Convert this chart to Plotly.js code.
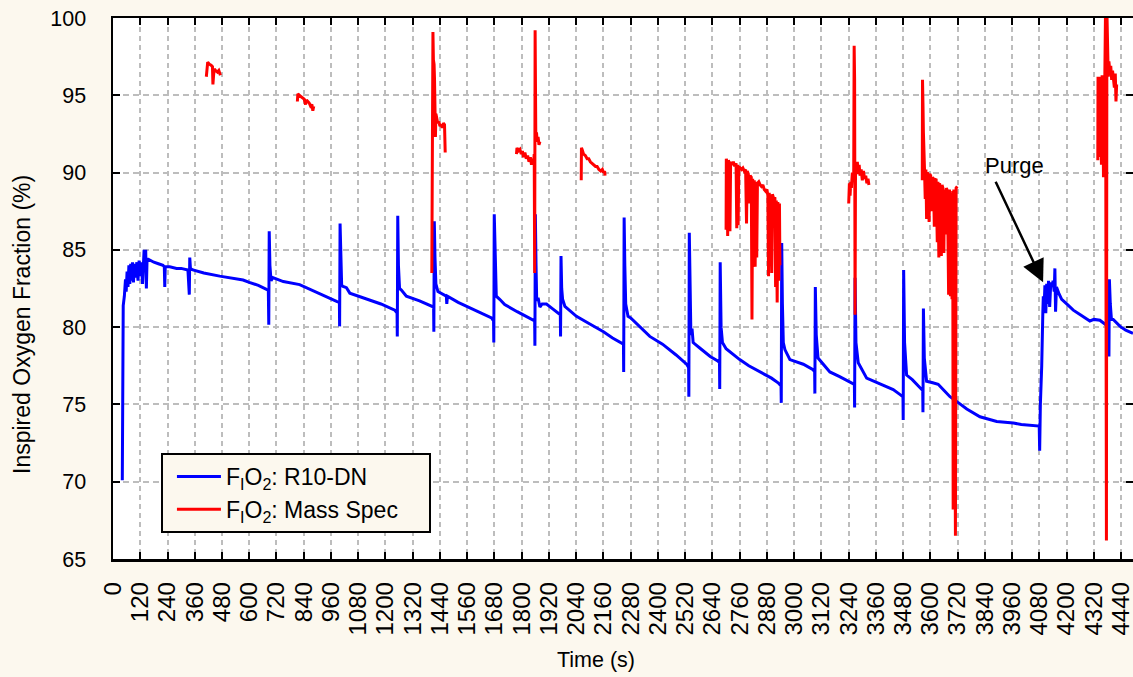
<!DOCTYPE html>
<html>
<head>
<meta charset="utf-8">
<script src="https://cdn.plot.ly/plotly-3.0.1.min.js"></script>
<style>html,body{margin:0;padding:0;background:#FCF8EE;}#chart{width:1133px;height:677px;}</style>
</head>
<body>
<div id="chart"></div>
<script>
// ---- data ----
const xTickVals = [0,120,240,360,480,600,720,840,960,1080,1200,1320,1440,1560,1680,1800,1920,2040,2160,2280,2400,2520,2640,2760,2880,3000,3120,3240,3360,3480,3600,3720,3840,3960,4080,4200,4320,4440];
const yTickVals = [65,70,75,80,85,90,95,100];

const seriesNames = ["F<sub>I</sub>O<sub>2</sub>: R10-DN&nbsp;&nbsp;&nbsp;&nbsp;", "F<sub>I</sub>O<sub>2</sub>: Mass Spec&nbsp;&nbsp;&nbsp;&nbsp;"];

// R10-DN sensor (blue)
const blueTime = [41,43,45,50,55,58,62,66,70,74,78,82,86,90,95,100,105,110,115,120,125,130,134,137,140,144,147,150,155,165,180,200,220,226,228,230,250,280,300,330,336,338,341,352,400,470,520,573,600,640,676,684,686,688,691,696,704,750,822,880,940,987,997,998,1000,1003,1007,1013,1020,1028,1043,1100,1180,1241,1251,1252,1254,1257,1262,1270,1292,1350,1402,1412,1413,1415,1418,1422,1431,1468,1470,1473,1520,1580,1620,1667,1676,1677,1679,1683,1688,1703,1725,1780,1820,1850,1857,1858,1860,1863,1866,1872,1880,1890,1909,1935,1960,1970,1971,1973,1976,1980,1990,2041,2100,2160,2200,2240,2248,2249,2251,2254,2258,2268,2280,2364,2420,2480,2526,2535,2536,2538,2541,2545,2550,2555,2584,2630,2665,2671,2672,2674,2678,2684,2700,2760,2800,2850,2900,2929,2942,2943,2945,2948,2952,2959,2981,3040,3083,3090,3091,3093,3097,3105,3157,3200,3245,3265,3266,3268,3272,3282,3319,3380,3436,3465,3479,3480,3482,3486,3495,3520,3553,3566,3567,3569,3573,3583,3610,3634,3660,3686,3715,3760,3818,3892,3965,4000,4079,4081,4084,4090,4095,4097,4100,4104,4108,4112,4116,4120,4125,4130,4135,4140,4145,4148,4151,4155,4165,4178,4200,4229,4260,4302,4320,4346,4368,4385,4386,4388,4392,4397,4405,4435,4460,4492];
const blueO2 = [70.1,80.0,81.4,82.0,83.1,82.3,83.6,82.6,84.0,82.8,84.1,83.0,84.2,82.9,84.1,83.2,84.2,83.0,84.3,83.3,84.2,82.8,84.4,85.0,84.0,85.0,82.5,84.4,84.4,84.3,84.2,84.1,84.0,83.9,82.6,83.9,83.9,83.8,83.8,83.7,82.1,84.5,83.8,83.7,83.5,83.3,83.2,83.05,82.9,82.7,82.45,82.4,80.16,86.2,84.0,83.0,83.2,82.95,82.75,82.35,81.95,81.65,81.6,80.05,86.7,84.5,82.7,82.64,82.6,82.55,82.2,81.9,81.5,81.1,80.9,79.4,87.2,84.0,82.5,82.4,82.0,81.7,81.4,81.3,79.7,86.85,84.5,82.8,82.3,82.0,81.5,82.0,81.6,81.2,80.9,80.6,80.4,79.0,87.3,84.0,82.0,81.8,81.46,81.0,80.7,80.5,80.4,78.8,87.3,84.0,81.7,81.9,81.3,81.5,81.5,81.2,80.9,80.8,79.4,84.6,82.5,81.8,81.35,80.7,80.2,79.7,79.3,79.0,78.9,77.1,87.1,84.0,81.5,80.7,80.6,79.4,78.9,78.2,77.6,77.4,75.5,86.1,82.0,79.5,79.9,79.0,78.65,78.1,77.8,77.7,76.0,84.2,80.0,79.0,78.6,77.9,77.5,77.1,76.7,76.4,76.2,75.1,85.45,81.5,79.0,78.55,77.9,77.6,77.25,77.1,75.7,82.6,79.5,78.0,77.1,76.8,76.45,76.3,74.8,83.2,79.0,77.7,76.7,76.3,75.96,75.65,75.5,74.0,83.7,79.0,76.9,76.6,76.1,75.9,74.5,81.2,78.0,76.5,76.4,76.3,75.9,75.5,75.2,74.7,74.2,73.9,73.8,73.7,73.6,72.0,75.0,77.5,81.0,82.0,81.0,82.7,80.9,82.8,81.5,83.0,81.3,82.9,82.6,83.0,82.3,83.8,81.0,82.6,82.2,81.8,81.5,81.1,80.8,80.4,80.5,80.45,80.2,80.0,78.1,83.1,81.5,80.5,80.5,80.05,79.8,79.6];

// Mass spectrometer (red), separate sampling bursts (null = gap)
const redTime = [411,413,417,425,432,438,440,443,446,452,460,466,470,473,null,
 812,814,820,828,835,842,848,852,858,864,870,876,880,884,null,
 1404,1405,1407,1409,1411,1414,1416,1418,1420,1422,1425,1430,1435,1440,1445,1450,1455,1460,1463,null,
 1777,1779,1785,1792,1798,1803,1808,1814,1820,1826,1832,1838,1843,1848,1852,1855,1857,1859,1862,1865,1868,1872,1876,1880,null,
 2062,2063,2066,2072,2080,2088,2095,2102,2110,2118,2125,2132,2140,2148,2155,2160,2165,2167,null,
 2700,2701,2704,2707,2710,2714,2717,2720,2726,2732,2738,2744,2747,2750,2753,2756,2762,2768,2774,2780,2786,2790,2793,2798,2803,2806,2811,2814,2817,2821,2824,2828,2831,2835,2838,2844,2850,2856,2862,2868,2874,2880,2884,2887,2890,2894,2897,2901,2904,2910,2915,2918,2921,2925,2928,2932,2935,2937,null,
 3240,3243,3246,3249,3252,3256,3260,3262,3264,3266,3268,3270,3274,3278,3282,3286,3290,3295,3300,3305,3310,3315,3320,3325,3329,null,
 3564,3565,3567,3569,3571,3574,3577,3580,3583,3586,3590,3594,3597,3601,3605,3609,3613,3617,3620,3625,3630,3633,3637,3640,3644,3648,3651,3655,3659,3662,3666,3670,3675,3680,3684,3688,3691,3695,3698,3700,3703,3710,3713,3718,null,
 4337,4338,4341,4344,4347,4350,4353,4356,4359,4362,4365,4368,4371,4373,4375,4377,4380,4383,4386,4390,4394,4398,4402,4406,4410,4414,4417,4420];
const redO2 = [96.2,96.9,97.15,97.0,96.95,96.85,95.7,96.3,96.7,96.6,96.5,96.6,96.4,96.3,null,
 94.6,95.1,95.0,94.9,94.8,94.75,94.4,94.7,94.6,94.5,94.3,94.4,94.0,94.3,null,
 83.5,91.7,91.0,99.1,97.3,97.0,96.0,94.0,92.3,93.8,93.6,93.2,93.3,93.0,93.1,92.9,93.2,93.1,91.3,null,
 91.2,91.6,91.4,91.5,91.2,91.4,91.0,91.3,90.9,91.1,90.7,91.0,90.5,90.9,90.6,91.2,83.5,99.2,92.4,92.6,92.0,92.3,91.8,92.0,null,
 89.5,91.6,91.5,91.2,91.1,90.9,90.9,90.7,90.6,90.5,90.4,90.4,90.2,90.1,90.2,90.0,90.1,89.8,null,
 86.3,90.9,90.6,85.9,90.8,90.6,86.2,90.7,90.5,90.7,90.4,90.6,86.4,90.5,86.6,90.4,90.3,90.2,90.3,90.1,90.2,86.7,90.1,89.9,88.0,89.8,89.7,80.5,89.6,85.0,89.5,83.9,89.4,84.5,89.3,89.4,89.2,89.1,89.2,88.9,88.8,88.9,88.5,83.3,88.7,84.0,88.6,83.5,88.6,88.3,88.4,82.6,88.2,81.6,88.1,83.0,88.0,84.0,null,
 88.0,89.3,88.5,89.4,89.0,90.0,89.8,89.7,98.2,96.0,80.8,90.6,90.3,90.7,89.9,90.5,89.8,90.2,89.5,90.1,89.6,89.8,89.3,89.6,89.2,null,
 89.5,96.0,94.5,92.6,90.3,90.1,88.3,90.2,87.0,90.0,89.9,86.8,89.9,89.8,87.5,89.7,89.6,86.5,89.5,89.6,85.5,89.4,84.5,89.3,89.0,84.6,89.2,89.0,84.8,88.9,86.0,89.0,88.8,82.1,88.9,82.0,88.7,81.8,88.8,68.2,88.9,66.5,89.0,89.1,null,
 90.8,96.2,95.6,91.0,96.2,95.9,90.5,96.3,96.0,89.7,96.1,96.3,100.5,82.0,66.2,100.5,97.0,96.2,97.2,96.5,96.9,96.0,96.6,96.2,95.5,96.4,94.6,95.7];

// annotation anchor values
const purgeLabel = {t: 3968, v: 90.45};
const purgeTail = {t: 3884, v: 89.5};
const purgeTip = {t: 4096, v: 82.9};

const FONT = "Arial, 'Liberation Sans', sans-serif";
const CREAM = "#FCF8EE";

const traces = [
  {x: blueTime, y: blueO2, type: "scatter", mode: "lines", name: seriesNames[0],
   line: {color: "#0000FF", width: 3}},
  {x: redTime, y: redO2, type: "scatter", mode: "lines", name: seriesNames[1],
   connectgaps: false, line: {color: "#FF0000", width: 3}}
];

const layout = {
  width: 1133, height: 677,
  margin: {l: 113, r: 0, t: 18, b: 118},
  paper_bgcolor: CREAM, plot_bgcolor: "#FFFFFF",
  font: {family: FONT, color: "#000", size: 20},
  showlegend: true,
  legend: {x: 0.047, y: 0.196, xanchor: "left", yanchor: "top",
    bgcolor: CREAM, bordercolor: "#000", borderwidth: 2, indentation: 9,
    font: {family: FONT, size: 23, color: "#000"}, tracegroupgap: 0, itemwidth: 44},
  xaxis: {range: [0, 4492], tickmode: "array", tickvals: xTickVals, ticktext: xTickVals.map(String),
    tickangle: -90, ticks: "inside", ticklen: 7, tickwidth: 2, tickcolor: "#000",
    showline: true, linecolor: "#000", linewidth: 2.5, mirror: "ticks",
    showgrid: true, gridcolor: "#BDBDBD", gridwidth: 2, griddash: "5px,4px",
    zeroline: false, tickfont: {family: FONT, size: 24}, ticklabelstandoff: 11,
    ticklabeloverflow: "allow"},
  yaxis: {range: [65, 100], tickmode: "array", tickvals: yTickVals, ticktext: yTickVals.map(String),
    ticks: "inside", ticklen: 7, tickwidth: 2, tickcolor: "#000",
    showline: true, linecolor: "#000", linewidth: 2.5, mirror: "ticks",
    showgrid: true, gridcolor: "#BDBDBD", gridwidth: 2, griddash: "6px,4px",
    zeroline: false, tickfont: {family: FONT, size: 21.5}, ticklabelstandoff: 20},
  annotations: [
    {text: "Time (s)", xref: "paper", yref: "paper", x: 0.4735, y: -0.187,
     xanchor: "center", yanchor: "middle", showarrow: false, font: {family: FONT, size: 21.5}},
    {text: "Inspired Oxygen Fraction (%)", xref: "paper", yref: "paper", x: -0.089, y: 0.433,
     xanchor: "center", yanchor: "middle", textangle: -90, showarrow: false, font: {family: FONT, size: 23}},
    {text: "Purge", x: purgeLabel.t, y: purgeLabel.v, xref: "x", yref: "y",
     showarrow: false, font: {family: FONT, size: 22}},
    {text: "", x: purgeTip.t, y: purgeTip.v, xref: "x", yref: "y",
     ax: purgeTail.t, ay: purgeTail.v, axref: "x", ayref: "y",
     showarrow: true, arrowhead: 2, arrowsize: 1.8, arrowwidth: 2.5, arrowcolor: "#000"}
  ]
};

Plotly.newPlot("chart", traces, layout, {displayModeBar: false, staticPlot: true});
</script>
</body>
</html>
